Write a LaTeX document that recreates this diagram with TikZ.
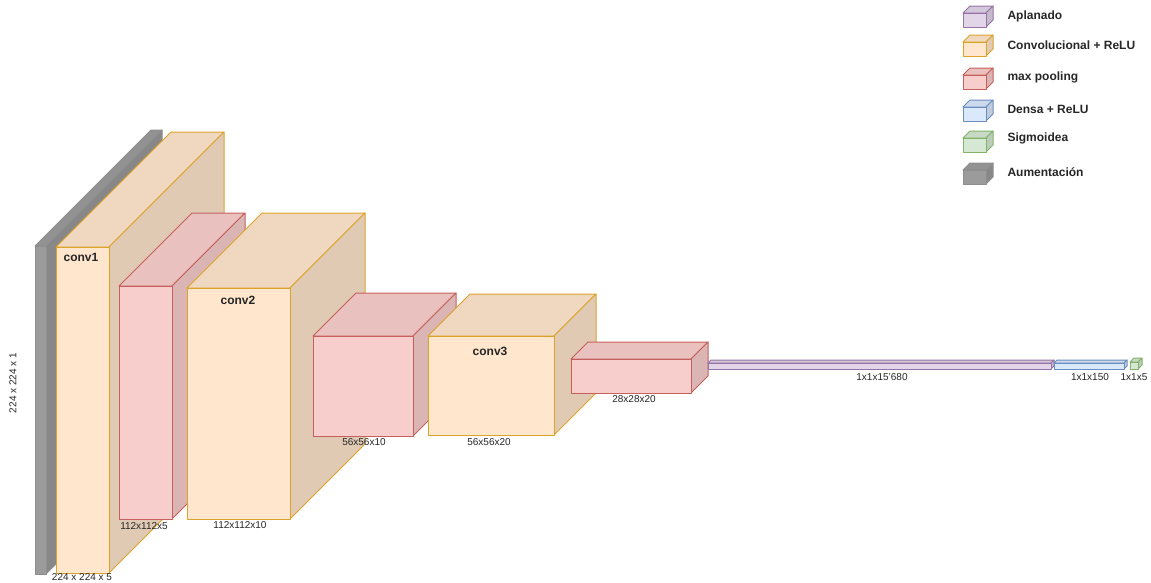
\documentclass[tikz,border=0pt]{standalone}
\usepackage{fontspec}
\setmainfont{Liberation Sans}
\usepackage{tikz}
\usetikzlibrary{positioning}

\definecolor{convfill}{HTML}{FFE6CC}
\definecolor{convline}{HTML}{DCA32A}
\definecolor{poolfill}{HTML}{F8CECC}
\definecolor{poolline}{HTML}{C5605C}
\definecolor{flatfill}{HTML}{E1D5E7}
\definecolor{flatline}{HTML}{9673A6}
\definecolor{densfill}{HTML}{DAE8FC}
\definecolor{densline}{HTML}{6C8EBF}
\definecolor{sigmfill}{HTML}{D5E8D4}
\definecolor{sigmline}{HTML}{82B366}
\definecolor{augmfill}{HTML}{9B9B9B}
\definecolor{augmline}{HTML}{8E8E8E}

% box drawn as front, top and side face: #1 colour, front from (#2,#3) to (#4,#5), depth #6
\newcommand{\cuboid}[6]{%
  \filldraw[draw=#1line, fill=#1fill!94!black, line join=round] (#2,#3) -- (#2+#6,#3-#6) -- (#4+#6,#3-#6) -- (#4,#3) -- cycle;
  \filldraw[draw=#1line, fill=#1fill!88!black, line join=round] (#4,#3) -- (#4+#6,#3-#6) -- (#4+#6,#5-#6) -- (#4,#5) -- cycle;
  \filldraw[draw=#1line, fill=#1fill, line join=round] (#2,#3) rectangle (#4,#5);
}

\tikzset{
  dimlabel/.style={font=\fontsize{10}{12}\selectfont, text=black!85, inner sep=0pt},
  layername/.style={font=\fontsize{12}{14}\selectfont\bfseries, text=black!85, inner sep=0pt},
  legendtext/.style={font=\fontsize{12}{14}\selectfont\bfseries, text=black!85, inner sep=0pt, anchor=west}
}

\begin{document}
\begin{tikzpicture}[x=1pt, y=-1pt, line width=1pt]
        \useasboundingbox (0,0) rectangle (1151,582);

        % layers
        \cuboid{augm}{35}{246}{46}{574}{116}
        \cuboid{conv}{56}{247}{109}{573}{115}
        \cuboid{pool}{119}{286}{172}{519}{73}
        \cuboid{conv}{187}{288}{290}{519}{75}
        \cuboid{pool}{313}{336}{413}{436}{43}
        \cuboid{conv}{428}{336}{554}{435}{42}
        \cuboid{pool}{571}{359}{691}{393}{17}
        \cuboid{flat}{708}{363}{1051}{369}{3}
        \cuboid{dens}{1054}{363}{1124}{369}{3}
        \cuboid{sigm}{1130}{362}{1138}{369}{4}

        \node (conv1) [layername] at (81,257) {conv1};
        \node (conv2) [layername] at (238,300) {conv2};
        \node (conv3) [layername] at (490,351) {conv3};

        \node (dimin) [dimlabel, rotate=90] at (13,383) {224 x 224 x 1};
        \node (dimconv1) [dimlabel] at (82,577) {224 x 224 x 5};
        \node (dimpool1) [dimlabel] at (144,526) {112x112x5};
        \node (dimconv2) [dimlabel] at (240,525) {112x112x10};
        \node (dimpool2) [dimlabel] at (364,442) {56x56x10};
        \node (dimconv3) [dimlabel] at (489,442) {56x56x20};
        \node (dimpool3) [dimlabel] at (634,399) {28x28x20};
        \node (dimflat) [dimlabel] at (882,377) {1x1x15'680};
        \node (dimdens) [dimlabel] at (1090,377) {1x1x150};
        \node (dimsigm) [dimlabel] at (1134,377) {1x1x5};

        % legend
        \cuboid{flat}{963}{13}{986}{27}{7}
        \cuboid{conv}{963}{42}{986}{56}{7}
        \cuboid{pool}{963}{75}{986}{89}{7}
        \cuboid{dens}{963}{107}{986}{121}{7}
        \cuboid{sigm}{963}{138}{986}{152}{7}
        \cuboid{augm}{963}{170}{986}{184}{7}

        \node (legflat) [legendtext] at (1007,16) {Aplanado};
        \node (legconv) [legendtext] at (1007,45) {Convolucional + ReLU};
        \node (legpool) [legendtext] at (1007,77) {max pooling};
        \node (legdens) [legendtext] at (1007,109) {Densa + ReLU};
        \node (legsigm) [legendtext] at (1007,138) {Sigmoidea};
        \node (legaugm) [legendtext] at (1007,172) {Aumentación};
    \end{tikzpicture}
\end{document}
